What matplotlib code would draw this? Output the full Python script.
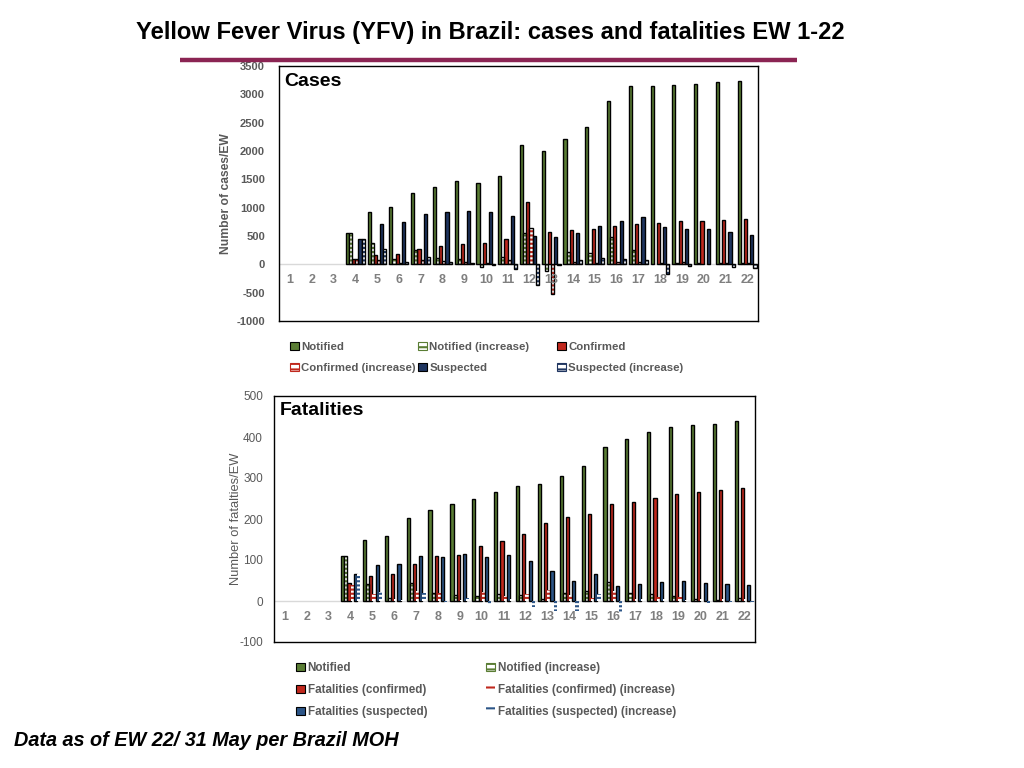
import matplotlib
matplotlib.use("Agg")
import matplotlib.pyplot as plt
import numpy as np
from matplotlib.patches import Patch
from matplotlib.lines import Line2D

plt.rcParams['font.family'] = ['Liberation Sans', 'DejaVu Sans']
plt.rcParams['hatch.linewidth'] = 1.5
plt.rcParams['axes.unicode_minus'] = False

# ---------------- DATA ----------------
weeks = list(range(1, 23))

# Cases per epidemiological week (EW 1-22)
notified = [0, 0, 0, 550, 920, 1010, 1260, 1370, 1470, 1430, 1555, 2100, 1995, 2210, 2415, 2890, 3140, 3140, 3170, 3190, 3210, 3240]
notified_inc = [0, 0, 0, 550, 370, 90, 250, 110, 100, -40, 125, 545, -110, 215, 205, 475, 250, 0, 30, 20, 20, 30]
confirmed = [0, 0, 0, 88, 165, 190, 270, 325, 360, 380, 450, 1095, 570, 605, 625, 675, 710, 730, 765, 765, 780, 800]
confirmed_inc = [0, 0, 0, 88, 75, 25, 80, 55, 35, 20, 70, 645, -525, 35, 20, 50, 35, 20, 35, 0, 15, 20]
suspected = [0, 0, 0, 455, 715, 755, 885, 930, 945, 925, 855, 500, 485, 555, 675, 765, 835, 655, 625, 625, 575, 515]
suspected_inc = [0, 0, 0, 455, 265, 40, 130, 45, 15, -15, -80, -360, -15, 70, 120, 90, 70, -175, -35, 0, -50, -60]

# Fatalities per epidemiological week (EW 1-22)
fat_notified = [0, 0, 0, 109, 150, 159, 202, 221, 236, 248, 265, 280, 285, 304, 329, 375, 394, 411, 424, 429, 431, 438]
fat_notified_inc = [0, 0, 0, 109, 42, 8, 44, 20, 15, 12, 17, 15, 5, 19, 25, 46, 19, 17, 13, 5, 2, 7]
fat_confirmed = [0, 0, 0, 43, 60, 65, 90, 109, 111, 133, 146, 163, 190, 204, 212, 236, 241, 251, 260, 265, 270, 275]
fat_confirmed_inc = [0, 0, 0, 40, 17, 5, 25, 19, 2, 22, 13, 17, 27, 14, 8, 24, 5, 10, 9, 5, 5, 5]
fat_suspected = [0, 0, 0, 66, 88, 90, 110, 107, 115, 107, 112, 97, 73, 49, 66, 37, 41, 46, 49, 44, 41, 39]
fat_suspected_inc = [0, 0, 0, 66, 22, 2, 20, -3, 8, -8, 5, -15, -24, -24, 17, -29, 4, 5, 3, -5, -3, -2]

GREEN = '#5a7d34'
RED = '#c0281d'
NAVY = '#1f3560'
BLUE2 = '#2c5587'
GRAY = '#595959'
HATCH = '----'

fig = plt.figure(figsize=(10.24, 7.68), dpi=100)

# title and rule
fig.text(0.479, 1 - 32 / 768, 'Yellow Fever Virus (YFV) in Brazil: cases and fatalities EW 1-22',
         ha='center', va='center', fontsize=17.1, fontweight='bold', color='black')
fig.add_artist(Line2D([180 / 1024, 797 / 1024], [1 - 60 / 768, 1 - 60 / 768],
                      color='#8b2453', linewidth=3.2, solid_capstyle='butt'))
fig.text(14 / 1024, 1 - 741 / 768, 'Data as of EW 22/ 31 May per Brazil MOH',
         ha='left', va='center', fontsize=14.3, fontweight='bold', fontstyle='italic', color='black')

x = np.array(weeks, dtype=float)
W = 0.145


def hide_zero(bars):
    for b in bars:
        if b.get_height() == 0:
            b.set_visible(False)


def solid(ax, pos, vals, color):
    hide_zero(ax.bar(pos, vals, W, color=color, edgecolor='black', linewidth=1.0, zorder=3))


def hatched(ax, pos, vals, hcolor, border=True):
    hide_zero(ax.bar(pos, vals, W, facecolor='white', edgecolor=hcolor, hatch=HATCH, linewidth=0, zorder=3))
    if border:
        hide_zero(ax.bar(pos, vals, W, fill=False, edgecolor='black', linewidth=1.0, zorder=4))


def style_axes(ax, ymin, ymax, step, ylabel, title, bold, tick_fs, tick_pad, lab_fs, lab_x):
    ax.set_xlim(0.5, 22.5)
    ax.set_ylim(ymin, ymax)
    ax.set_yticks(np.arange(ymin, ymax + 1, step))
    ax.tick_params(axis='y', length=0, pad=tick_pad, labelsize=tick_fs, labelcolor=GRAY)
    for lab in ax.get_yticklabels():
        lab.set_fontweight('bold' if bold else 'normal')
    ax.set_xticks([])
    ax.axhline(0, color='#d9d9d9', linewidth=1.0, zorder=2)
    for sp in ax.spines.values():
        sp.set_linewidth(1.0)
        sp.set_color('black')
    ax.set_ylabel(ylabel, fontsize=lab_fs, color=GRAY, fontweight='bold' if bold else 'normal')
    ax.yaxis.set_label_coords(lab_x, 0.5)
    ax.text(0.012, 0.94, title, transform=ax.transAxes, fontsize=14, fontweight='bold',
            ha='left', va='center', color='black')
    for w in weeks:
        ax.annotate(str(w), xy=(w, 0), xycoords='data', xytext=(0, -11.5), textcoords='offset points',
                    ha='center', va='center', fontsize=9, fontweight='bold', color='#7f7f7f', zorder=5)


def entry(handle, label, xpx, ypx, fs):
    leg = fig.legend([handle], [label], loc='center left',
                     bbox_to_anchor=(xpx / 1024, 1 - ypx / 768),
                     frameon=False, fontsize=fs, handlelength=0.75, handleheight=0.75,
                     handletextpad=0.25, borderaxespad=0, borderpad=0)
    for t in leg.get_texts():
        t.set_color(GRAY)
        t.set_fontweight('bold')


# ---------------- Cases ----------------
ax1 = fig.add_axes([279 / 1024, 1 - 321 / 768, 479 / 1024, 255 / 768])
off = (np.arange(6) - 2.5) * W
solid(ax1, x + off[0], notified, GREEN)
hatched(ax1, x + off[1], notified_inc, GREEN)
solid(ax1, x + off[2], confirmed, RED)
hatched(ax1, x + off[3], confirmed_inc, RED)
solid(ax1, x + off[4], suspected, NAVY)
hatched(ax1, x + off[5], suspected_inc, NAVY)
style_axes(ax1, -1000, 3500, 500, 'Number of cases/EW', 'Cases', True, 8, 10, 8.7, -0.098)

h_not = Patch(facecolor=GREEN, edgecolor='black', linewidth=0.8)
h_not_inc = Patch(facecolor='white', edgecolor=GREEN, hatch='---', linewidth=0.8)
h_conf = Patch(facecolor=RED, edgecolor='black', linewidth=0.8)
h_conf_inc = Patch(facecolor='white', edgecolor=RED, hatch='---', linewidth=0.8)
h_susp = Patch(facecolor=NAVY, edgecolor='black', linewidth=0.8)
h_susp_inc = Patch(facecolor='white', edgecolor=NAVY, hatch='---', linewidth=0.8)
entry(h_not, 'Notified', 290, 347, 8.2)
entry(h_not_inc, 'Notified (increase)', 418, 347, 8.2)
entry(h_conf, 'Confirmed', 557, 347, 8.2)
entry(h_conf_inc, 'Confirmed (increase)', 290, 368, 8.2)
entry(h_susp, 'Suspected', 418, 368, 8.2)
entry(h_susp_inc, 'Suspected (increase)', 557, 368, 8.2)

# ---------------- Fatalities ----------------
ax2 = fig.add_axes([274 / 1024, 1 - 642 / 768, 481 / 1024, 246 / 768])
solid(ax2, x + off[0], fat_notified, GREEN)
hatched(ax2, x + off[1], fat_notified_inc, GREEN)
solid(ax2, x + off[2], fat_confirmed, RED)
hatched(ax2, x + off[3], fat_confirmed_inc, RED, border=False)
solid(ax2, x + off[4], fat_suspected, BLUE2)
hatched(ax2, x + off[5], fat_suspected_inc, BLUE2, border=False)
style_axes(ax2, -100, 500, 100, 'Number of fatalties/EW', 'Fatalities', False, 8.5, 8, 9.3, -0.066)

g_not = Patch(facecolor=GREEN, edgecolor='black', linewidth=0.8)
g_not_inc = Patch(facecolor='white', edgecolor=GREEN, hatch='---', linewidth=0.8)
g_conf = Patch(facecolor=RED, edgecolor='black', linewidth=0.8)
g_conf_inc = Patch(facecolor='white', edgecolor=RED, hatch='--', linewidth=0)
g_susp = Patch(facecolor=BLUE2, edgecolor='black', linewidth=0.8)
g_susp_inc = Patch(facecolor='white', edgecolor=BLUE2, hatch='-', linewidth=0)
entry(g_not, 'Notified', 296, 668, 8.4)
entry(g_conf, 'Fatalities (confirmed)', 296, 690, 8.4)
entry(g_susp, 'Fatalities (suspected)', 296, 712, 8.4)
entry(g_not_inc, 'Notified (increase)', 486, 668, 8.4)
entry(g_conf_inc, 'Fatalities (confirmed) (increase)', 486, 690, 8.4)
entry(g_susp_inc, 'Fatalities (suspected) (increase)', 486, 712, 8.4)

fig.savefig('out.png', dpi=100)
